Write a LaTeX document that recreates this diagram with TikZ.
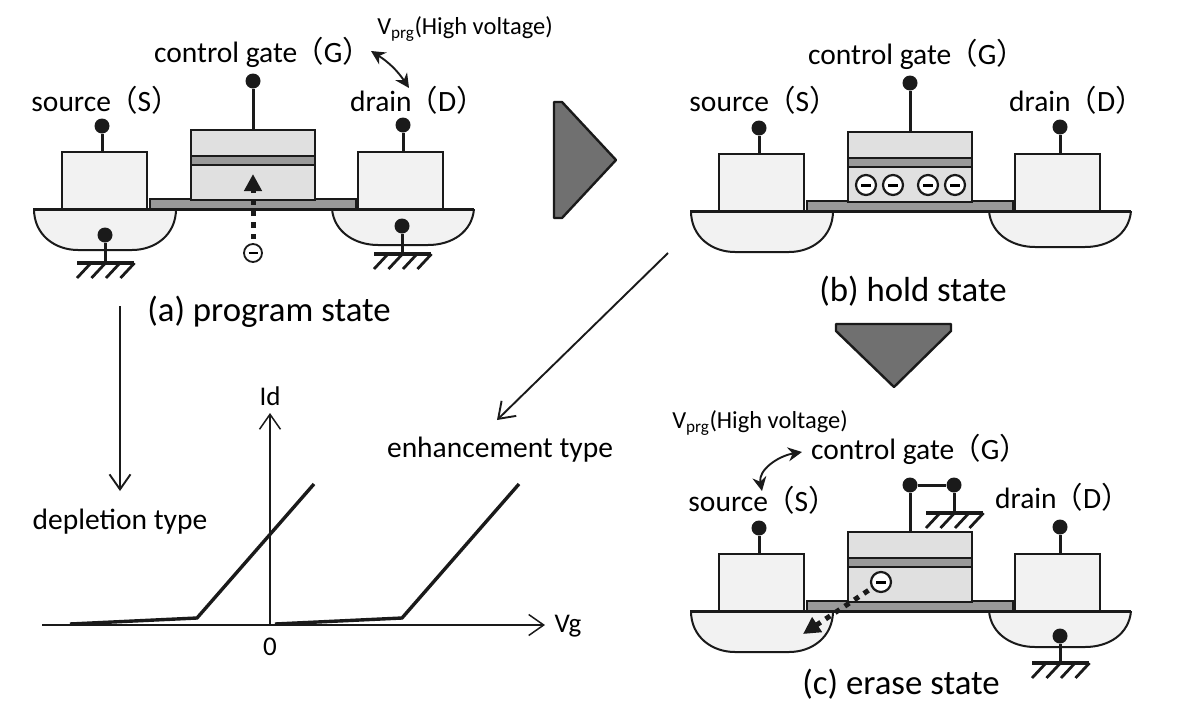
\documentclass[tikz,border=0pt]{standalone}
\usepackage{fontspec}
\setmainfont{Carlito}
\newfontfamily\cjk{Noto Sans CJK JP}
\usetikzlibrary{arrows.meta}
\definecolor{inkdark}{HTML}{1A1A1A}
\definecolor{srcfill}{HTML}{F2F2F2}
\definecolor{gatefill}{HTML}{E0E0E0}
\definecolor{bandfill}{HTML}{999999}
\definecolor{trifill}{HTML}{707070}
\newcommand\lpar{\hspace{-3pt}{\cjk（}}
\newcommand\rpar{{\cjk）}}
\tikzset{
    outline/.style={draw=inkdark,line width=2pt},
    pinline/.style={draw=inkdark,line width=3pt},
    pindot/.style={circle,fill=inkdark,inner sep=0pt,minimum size=15pt},
    elec/.style={circle,draw=inkdark,fill=white,line width=2.2pt,inner sep=0pt,minimum size=20pt},
    elecsmall/.style={elec,line width=1.8pt,minimum size=18pt},
    dotarrow/.style={draw=inkdark,line width=5pt,dash pattern=on 5.5pt off 6pt,shorten <=4pt,-{Triangle[length=17pt,width=17pt]}},
    openarrow/.style={draw=inkdark,line width=1.9pt,-{Straight Barb[length=15pt,width=21pt]}},
    axisarrow/.style={openarrow,line width=1.5pt},
    bentarrow/.style={draw=inkdark,line width=1.9pt,{Stealth[length=14pt,width=14pt]}-{Stealth[length=14pt,width=14pt]}},
    bigarrow/.style={fill=trifill,draw=inkdark,line width=2.4pt,line join=round},
    labeltext/.style={inner sep=0pt,font=\fontsize{29.5}{32}\selectfont},
    statetext/.style={inner sep=0pt,font=\fontsize{34.8}{38}\selectfont},
    volttext/.style={inner sep=0pt,font=\fontsize{24.5}{27}\selectfont},
    axistext/.style={inner sep=0pt,font=\fontsize{27}{30}\selectfont},
}
% one cell, #1 = height of the gate pin dot
\newcommand\memcell[1]{
    \path[outline,fill=srcfill] (34,209) .. controls (34,235) and (55,250) .. (78,250) -- (132,250)
        .. controls (155,250) and (176,235) .. (176,209);
    \path[outline,fill=srcfill] (332,209) .. controls (334,232) and (355,245) .. (378,245) -- (428,245)
        .. controls (452,245) and (472,232) .. (474,209);
    \path[outline,fill=bandfill] (150,199) rectangle (356,209);
    \path[outline,fill=srcfill] (62,152) rectangle (147,209);
    \path[outline,fill=srcfill] (358,152) rectangle (443,209);
    \path[outline,fill=gatefill] (191,130) rectangle (315,200);
    \path[outline,line width=2.6pt,fill=bandfill] (191,156) rectangle (315,165);
    \draw[inkdark,line width=3pt] (33,209)--(474,209);
    \node[pindot] (sdot) at (102,126) {};
    \coordinate (stop) at (102,152);
    \draw[pinline] (sdot)--(stop);
    \node[pindot] (ddot) at (403,125) {};
    \coordinate (dtop) at (403,152);
    \draw[pinline] (ddot)--(dtop);
    \node[pindot] (gdot) at (253,#1) {};
    \coordinate (gtop) at (253,130);
    \draw[pinline] (gdot)--(gtop);
}
% ground symbol, bar from #1 at height #2
\newcommand\earthbar[2]{
    \draw[inkdark,line width=3.4pt] (#1,#2)--(#1+57,#2);
    \foreach \k in {0,1,2,3} {
        \draw[inkdark,line width=2.8pt] (#1+14+14.5*\k,#2)--(#1+14.5*\k,#2+15);
    }
}
\begin{document}
\begin{tikzpicture}[x=1pt,y=-1pt]
    \useasboundingbox (0,0) rectangle (1180,718);
    % (a) program state
    \begin{scope}[name prefix=a-]
        \memcell{81}
        \node[pindot] (swell) at (105,235) {};
        \coordinate (sgnd) at (105,263);
        \draw[pinline] (swell)--(sgnd);
        \earthbar{77}{263}
        \node[pindot] (dwell) at (402,226) {};
        \coordinate (dgnd) at (402,254);
        \draw[pinline] (dwell)--(dgnd);
        \earthbar{374}{254}
        \node[elecsmall] (e) at (253,253) {\rule{9pt}{2.6pt}};
        \coordinate (tip) at (253,174);
        \draw[dotarrow] (e)--(tip);
    \end{scope}
    \node[labeltext] (agate) at (263,52) {control gate\lpar G\rpar};
    \node[labeltext] (asrc) at (106,100) {source\lpar S\rpar};
    \node[labeltext] (adrn) at (418,100) {drain\lpar D\rpar};
    \node[volttext] (avolt) at (465,29) {V\textsubscript{prg}(High voltage)};
    \coordinate (abend1) at (371,51);
    \coordinate (abend2) at (409,88);
    \draw[bentarrow] (abend1) to[bend left=12] (abend2);
    \node[statetext] (astate) at (269,312) {(a) program state};
    % (b) hold state
    \begin{scope}[shift={(657,2)},name prefix=b-]
        \memcell{81}
        \foreach \ex/\nm in {209/p,236/q,271/r,298/s} {
            \node[elec] (e\nm) at (\ex,183) {\rule{10pt}{3pt}};
        }
    \end{scope}
    \node[labeltext] (bgate) at (917,54) {control gate\lpar G\rpar};
    \node[labeltext] (bsrc) at (764,100) {source\lpar S\rpar};
    \node[labeltext] (bdrn) at (1077,100) {drain\lpar D\rpar};
    \node[statetext] (bstate) at (913,291) {(b) hold state};
    % (c) erase state
    \begin{scope}[shift={(657,402)},name prefix=c-]
        \memcell{83}
        \node[pindot] (gtwo) at (297,83) {};
        \coordinate (gbar) at (297,111);
        \draw[pinline] (gtwo)--(gbar);
        \draw[pinline] (gdot)--(gtwo);
        \earthbar{269}{111}
        \node[pindot] (dwell) at (403,234) {};
        \coordinate (dgnd) at (403,261);
        \draw[pinline] (dwell)--(dgnd);
        \earthbar{375}{261}
        \node[elec] (e) at (224,180) {\rule{10pt}{3pt}};
        \coordinate (tip) at (146,232);
        \draw[dotarrow] (e)--(tip);
    \end{scope}
    \node[labeltext] (cgate) at (920,449) {control gate\lpar G\rpar};
    \node[labeltext] (csrc) at (763,500) {source\lpar S\rpar};
    \node[labeltext] (cdrn) at (1063,497) {drain\lpar D\rpar};
    \node[volttext] (cvolt) at (760,423) {V\textsubscript{prg}(High voltage)};
    \coordinate (cbend1) at (802,452);
    \coordinate (cbend2) at (762,491);
    \draw[bentarrow] (cbend1) .. controls (778,456) and (758,470) .. (cbend2);
    \node[statetext] (cstate) at (901,684) {(c) erase state};
    % big arrows between the states
    \path[bigarrow] (554,102)--(562,102)--(616,160)--(562,218)--(554,218)--cycle;
    \path[bigarrow] (836,324)--(951,324)--(951,331)--(894,387)--(836,331)--cycle;
    % Id-Vg plot
    \coordinate (xaxis0) at (42,625);
    \coordinate (xaxis1) at (545,625);
    \coordinate (yaxis0) at (270,625);
    \coordinate (yaxis1) at (270,413);
    \draw[axisarrow] (xaxis0)--(xaxis1);
    \draw[axisarrow] (yaxis0)--(yaxis1);
    \node[axistext] (idlabel) at (270,396) {Id};
    \node[axistext] (vglabel) at (568,626) {Vg};
    \node[axistext] (zero) at (270,647) {0};
    \draw[inkdark,line width=3.4pt] (70,624)--(197,618)--(314,484);
    \draw[inkdark,line width=3.4pt] (275,624)--(402,618)--(519,484);
    \node[labeltext] (deptype) at (120,522) {depletion type};
    \node[labeltext] (enhtype) at (500,450) {enhancement type};
    \coordinate (depfrom) at (120,306);
    \coordinate (depto) at (120,491);
    \draw[openarrow] (depfrom)--(depto);
    \coordinate (enhfrom) at (668,253);
    \coordinate (enhto) at (497,420);
    \draw[openarrow] (enhfrom)--(enhto);
\end{tikzpicture}
\end{document}
